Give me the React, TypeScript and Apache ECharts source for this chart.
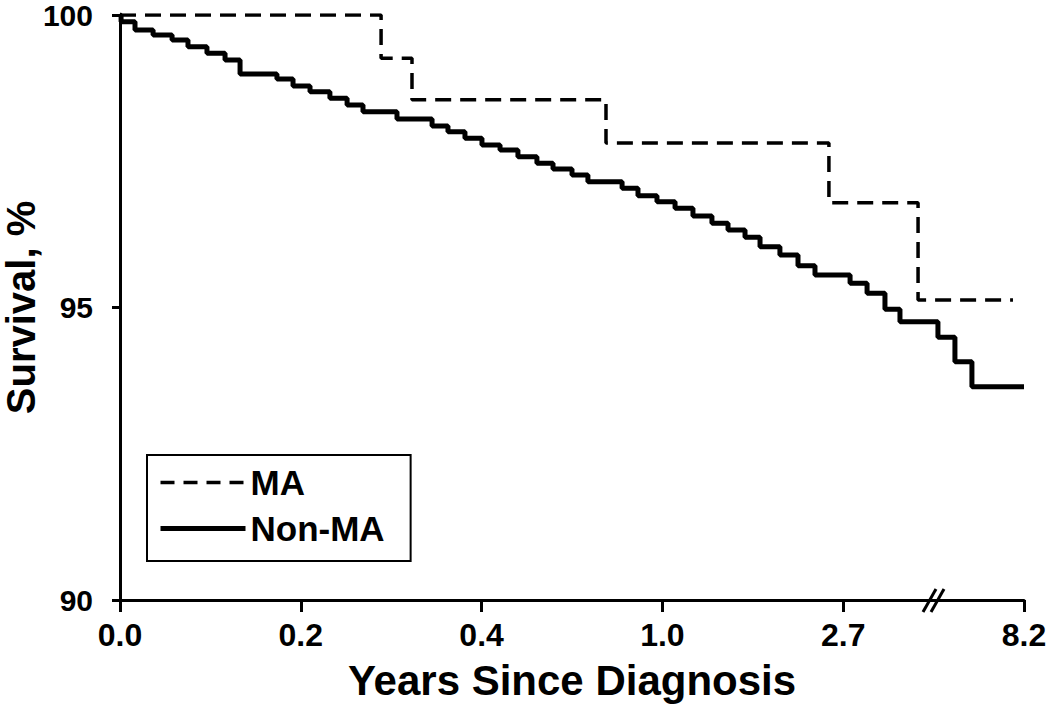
import React, { useEffect, useRef } from "react";
import * as echarts from "echarts";

// Evenly spaced x-axis tick labels (years since diagnosis, non-linear scale)
const xTickLabels = ["0.0", "0.2", "0.4", "1.0", "2.7", "8.2"];
const yTicks = [90, 95, 100];

// MA group: positions along the tick-index axis and survival (%)
const maPos = [0, 1.444, 1.615, 2.688, 3.921, 4.414, 4.939];
const maSurv = [100, 99.26, 98.55, 97.81, 96.79, 95.13, 95.13];

// Non-MA group
const nonMaPos = [
  0, 0.006, 0.083, 0.183, 0.288, 0.376, 0.481, 0.581, 0.664, 0.868, 0.957,
  1.051, 1.161, 1.256, 1.344, 1.532, 1.726, 1.814, 1.908, 2.002, 2.102, 2.201,
  2.306, 2.395, 2.5, 2.588, 2.777, 2.865, 2.97, 3.07, 3.169, 3.274, 3.363,
  3.457, 3.54, 3.65, 3.75, 3.844, 4.038, 4.132, 4.231, 4.314, 4.524, 4.618,
  4.712, 5.0,
];
const nonMaSurv = [
  100, 99.885, 99.744, 99.658, 99.573, 99.458, 99.345, 99.231, 98.991, 98.906,
  98.786, 98.689, 98.576, 98.462, 98.347, 98.222, 98.103, 98.005, 97.892,
  97.778, 97.692, 97.578, 97.465, 97.368, 97.265, 97.15, 97.038, 96.911,
  96.809, 96.696, 96.564, 96.439, 96.325, 96.2, 96.039, 95.897, 95.715,
  95.556, 95.414, 95.243, 94.969, 94.757, 94.491, 94.074, 93.646, 93.646,
];

const FONT = "'Liberation Sans', Arial, sans-serif";

export default function App() {
  const ref = useRef<HTMLDivElement>(null);
  useEffect(() => {
    document.body.style.margin = "0";
    if (!ref.current) return;
    const chart = echarts.init(ref.current, null, { renderer: "svg" });
    const zip = (a: number[], b: number[]) => a.map((v, i) => [v, b[i]]);
    chart.setOption({
      animation: false,
      backgroundColor: "#fff",
      grid: { left: 120, right: 26, top: 15, bottom: 104, outerBoundsMode: "none", containLabel: false },
      xAxis: {
        type: "value",
        min: 0,
        max: xTickLabels.length - 1,
        interval: 1,
        name: "Years Since Diagnosis",
        nameLocation: "middle",
        nameGap: 59,
        nameTextStyle: { fontFamily: FONT, fontWeight: "bold", fontSize: 42, color: "#000" },
        axisLine: { lineStyle: { color: "#000", width: 3 } },
        axisTick: { show: true, length: 12, lineStyle: { color: "#000", width: 3 } },
        axisLabel: {
          margin: 19,
          fontFamily: FONT,
          fontWeight: "bold",
          fontSize: 32,
          color: "#000",
          formatter: (v: number) => xTickLabels[Math.round(v)] ?? "",
        },
        splitLine: { show: false },
      },
      yAxis: {
        type: "value",
        min: yTicks[0],
        max: yTicks[yTicks.length - 1],
        interval: 5,
        name: "Survival, %",
        nameLocation: "middle",
        nameGap: 82,
        nameMoveOverlap: false,
        nameRotate: 90,
        nameTextStyle: { fontFamily: FONT, fontWeight: "bold", fontSize: 40, lineHeight: 34, color: "#000" },
        axisLine: { show: true, lineStyle: { color: "#000", width: 3 } },
        axisTick: { show: true, length: 8, lineStyle: { color: "#000", width: 3 } },
        axisLabel: {
          margin: 27,
          fontFamily: FONT,
          fontWeight: "bold",
          fontSize: 30,
          color: "#000",
        },
        splitLine: { show: false },
      },
      legend: {
        orient: "vertical",
        left: 147,
        top: 455,
        padding: [10, 26, 15, 11],
        itemGap: 11,
        itemWidth: 85,
        itemHeight: 20,
        borderColor: "#000",
        borderWidth: 2,
        itemStyle: { opacity: 0 },
        textStyle: { fontFamily: FONT, fontWeight: "bold", fontSize: 35, lineHeight: 35, color: "#000" },
        data: [
          { name: "MA", itemStyle: { opacity: 0 }, lineStyle: { width: 3.5, type: [14, 9], color: "#000" } },
          { name: "Non-MA", itemStyle: { opacity: 0 }, lineStyle: { width: 5, color: "#000" } },
        ],
      },
      series: [
        {
          name: "MA",
          type: "line",
          step: "end",
          symbol: "none",
          data: zip(maPos, maSurv),
          lineStyle: { color: "#000", width: 3.5, type: [16, 9] },
          itemStyle: { color: "#000" },
        },
        {
          name: "Non-MA",
          type: "line",
          step: "end",
          symbol: "none",
          data: zip(nonMaPos, nonMaSurv),
          lineStyle: { color: "#000", width: 5 },
          itemStyle: { color: "#000" },
        },
      ],
      graphic: [
        { type: "line", shape: { x1: 923, y1: 612, x2: 936, y2: 589 }, style: { stroke: "#000", lineWidth: 3 } },
        { type: "line", shape: { x1: 931, y1: 612, x2: 944, y2: 589 }, style: { stroke: "#000", lineWidth: 3 } },
      ],
    });
    return () => chart.dispose();
  }, []);
  return <div ref={ref} style={{ width: 1050, height: 704 }} />;
}
